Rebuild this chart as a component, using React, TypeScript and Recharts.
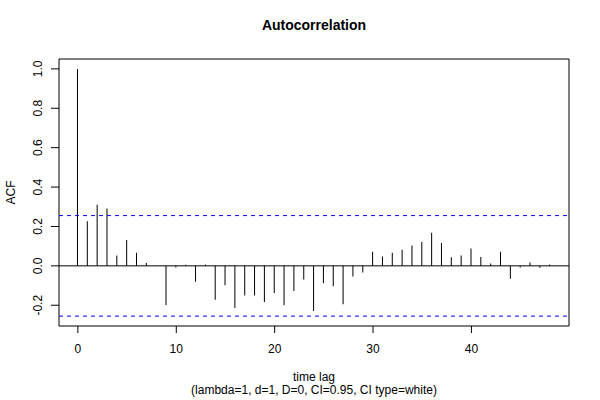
import {
  ComposedChart, Bar, XAxis, YAxis, ReferenceLine, ReferenceArea, Label,
} from 'recharts';

// ACF estimates, lags 0..48
const lags = Array.from({ length: 49 }, (_, i) => i);
const acfValues = [
  1.0, 0.227, 0.31, 0.291, 0.052, 0.131, 0.067, 0.015, 0.002, -0.199,
  -0.008, 0.005, -0.081, 0.007, -0.172, -0.098, -0.214, -0.15, -0.15, -0.184,
  -0.138, -0.2, -0.128, -0.069, -0.229, -0.088, -0.104, -0.195, -0.054, -0.034,
  0.072, 0.047, 0.067, 0.082, 0.103, 0.121, 0.168, 0.116, 0.044, 0.052,
  0.088, 0.045, 0.012, 0.072, -0.066, -0.008, 0.017, -0.01, 0.007,
];
const ciLimit = 0.2552;
const ciLevels = [ciLimit, -ciLimit];
const xTicks = [0, 10, 20, 30, 40];
const yTicks = [-0.2, 0, 0.2, 0.4, 0.6, 0.8, 1.0];
const xDomain: [number, number] = [-1.92, 49.92];
const yDomain: [number, number] = [-0.3054, 1.0502];

const FONT = '"Liberation Sans", Arial, Helvetica, sans-serif';

const data = lags.map((lag, i) => ({ lag, acf: acfValues[i] }));

// R draws y tick labels parallel to the axis
const YTick = (props: any) => {
  const { x, y, payload } = props;
  const cx = x - 11;
  return (
    <text x={cx} y={y} fontSize={12} fill="#000" textAnchor="middle"
      dominantBaseline="central" transform={`rotate(-90, ${cx}, ${y})`}>
      {payload.value.toFixed(1)}
    </text>
  );
};

export default function App() {
  return (
    <div style={{ position: 'absolute', left: 0, top: 0, width: 600, height: 400, background: '#fff', fontFamily: FONT }}>
      <div style={{
        position: 'absolute', left: 59, top: 16, width: 510, textAlign: 'center',
        fontSize: 14, fontWeight: 'bold', lineHeight: '18px',
      }}>
        Autocorrelation
      </div>
      <ComposedChart width={600} height={400} data={data}
        margin={{ top: 59, right: 31, left: 0, bottom: 44 }}>
        <XAxis
          dataKey="lag" type="number" domain={xDomain} ticks={xTicks}
          allowDataOverflow axisLine={false} height={30}
          tickSize={7} tickMargin={11}
          tickLine={{ stroke: '#000' }}
          tick={{ fill: '#000', fontSize: 12, fontFamily: FONT }}
        >
          <Label content={(p: any) => {
            const vb = p.viewBox;
            const cx = vb.x + vb.width / 2;
            return (
              <g fontFamily={FONT} fontSize={12} fill="#000" textAnchor="middle">
                <text x={cx} y={vb.y + 51} dominantBaseline="central">time lag</text>
                <text x={cx} y={vb.y + 64} dominantBaseline="central">
                  (lambda=1, d=1, D=0, CI=0.95, CI type=white)
                </text>
              </g>
            );
          }} />
        </XAxis>
        <YAxis
          type="number" domain={yDomain} ticks={yTicks} allowDataOverflow
          width={59} axisLine={false} tickSize={8} tickMargin={2}
          tickLine={{ stroke: '#000' }} tick={<YTick />}
        >
          <Label content={(p: any) => {
            const vb = p.viewBox;
            const cy = vb.y + vb.height / 2;
            return (
              <text x={11} y={cy} fontFamily={FONT} fontSize={12} fill="#000"
                textAnchor="middle" dominantBaseline="central"
                transform={`rotate(-90, 11, ${cy})`}>ACF</text>
            );
          }} />
        </YAxis>
        <ReferenceArea x1={xDomain[0]} x2={xDomain[1]} y1={yDomain[0]} y2={yDomain[1]}
          fill="none" stroke="#000" strokeWidth={1} ifOverflow="visible" />
        <ReferenceLine y={0} stroke="#000" strokeWidth={1} />
        <Bar dataKey="acf" barSize={1} fill="#000" isAnimationActive={false} />
        {ciLevels.map(v => (
          <ReferenceLine key={v} y={v} stroke="#0000ff" strokeWidth={1}
            strokeDasharray="4 4" />
        ))}
      </ComposedChart>
    </div>
  );
}
